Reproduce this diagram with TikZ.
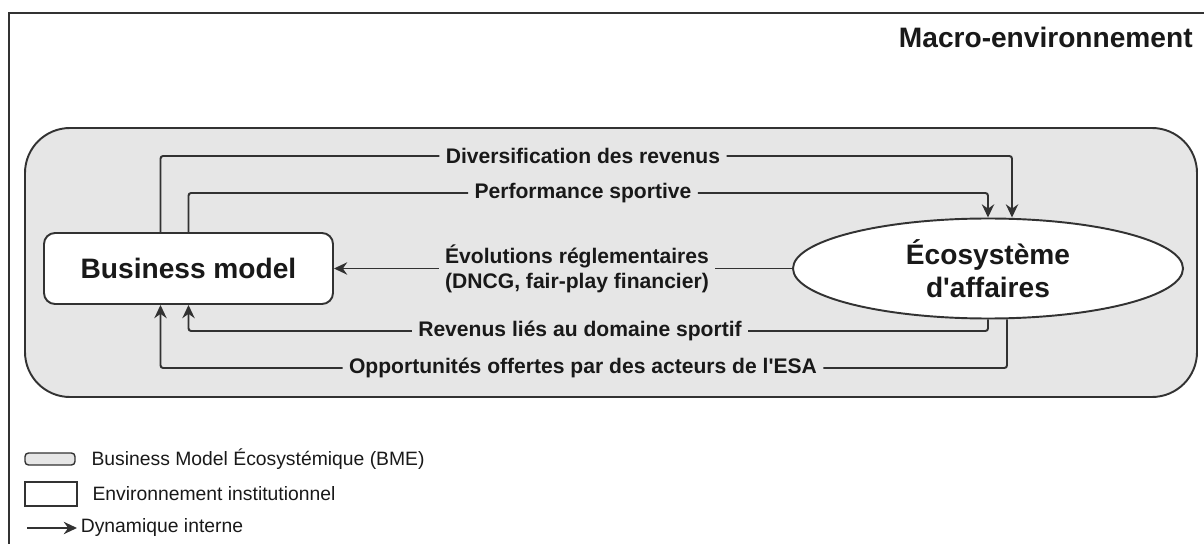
\documentclass[tikz,border=0pt]{standalone}
\usepackage{fontspec}
\setmainfont{Liberation Sans}
\usetikzlibrary{shapes.geometric,arrows.meta,positioning}
\definecolor{lineGray}{RGB}{50,50,50}
\definecolor{bmeGray}{RGB}{230,230,230}
\definecolor{txtBlack}{RGB}{25,25,25}

\begin{document}
\begin{tikzpicture}[
    actor/.style={draw=lineGray, line width=1.1pt, fill=white,
      font=\fontsize{16}{18.5}\selectfont\bfseries, text=txtBlack, align=center},
    flow/.style={font=\fontsize{12}{14.2}\selectfont\bfseries, text=txtBlack,
      inner xsep=3.5pt, inner ysep=1pt, align=center},
    conn/.style={draw=lineGray, line width=1.1pt, rounded corners=1.5pt},
    legtxt/.style={font=\fontsize{11}{13}\selectfont, text=txtBlack, inner sep=2pt, anchor=west},
    >={Stealth[length=7.5pt,width=7pt]}
  ]
  \useasboundingbox (0,0) rectangle (24.08,10.88);

  % Macro-environnement
  \draw[lineGray, line width=0.9pt] (24.08,10.62) -- (0.18,10.62) -- (0.18,0);
  \node[font=\fontsize{16}{18}\selectfont\bfseries, text=txtBlack, anchor=east,
    inner sep=0pt] (macro) at (23.86,10.14) {Macro-environnement};

  % BME area
  \draw[draw=lineGray, line width=1.1pt, fill=bmeGray, rounded corners=0.9cm]
    (0.5,2.94) rectangle (23.94,8.32);

  % Business model and ecosystem
  \node[actor, rounded corners=0.22cm, minimum width=5.78cm, minimum height=1.42cm]
    (bm) at (3.77,5.51) {Business model};
  \node[actor, ellipse, minimum width=7.8cm, minimum height=2cm, inner sep=0pt]
    (eco) at (19.76,5.51) {Écosystème\\d\textquotesingle affaires};

  % flows
  \node[flow] (div) at (11.66,7.76) {Diversification des revenus};
  \node[flow] (perf) at (11.66,7.02) {Performance sportive};
  \node[flow] (evo) at (11.54,5.51) {Évolutions réglementaires\\(DNCG, fair-play financier)};
  \node[flow] (rev) at (11.6,4.26) {Revenus liés au domaine sportif};
  \node[flow] (opp) at (11.66,3.52) {Opportunités offertes par des acteurs de l\textquotesingle ESA};

  \draw[conn] ([xshift=-0.56cm]bm.north) |- (div.west);
  \draw[conn,->] (div.east) -| ([xshift=0.48cm]eco.north);
  \draw[conn] (bm.north) |- (perf.west);
  \draw[conn,->] (perf.east) -| (eco.north);
  \draw[conn] (eco.west) -- (evo.east);
  \draw[conn,->] (evo.west) -- (bm.east);
  \draw[conn] (eco.south) |- (rev.east);
  \draw[conn,->] (rev.west) -| (bm.south);
  \draw[conn] ([xshift=0.38cm]eco.south) |- (opp.east);
  \draw[conn,->] (opp.west) -| ([xshift=-0.56cm]bm.south);

  % legend
  \node[draw=lineGray, line width=0.8pt, fill=bmeGray, rounded corners=2pt,
    minimum width=1cm, minimum height=0.24cm, inner sep=0pt] (legbme) at (1.0,1.70) {};
  \node[legtxt, right=0.24cm of legbme] (legbmetxt) {Business Model Écosystémique (BME)};
  \node[draw=lineGray, line width=0.8pt, minimum width=1.04cm, minimum height=0.48cm,
    inner sep=0pt] (leginst) at (1.02,1.0) {};
  \node[legtxt, right=0.22cm of leginst] (leginsttxt) {Environnement institutionnel};
  \coordinate (legarrow) at (0.54,0.32);
  \node[legtxt] (legdyn) at (1.54,0.32) {Dynamique interne};
  \draw[conn,->] (legarrow) -- (legdyn.west);
\end{tikzpicture}
\end{document}
